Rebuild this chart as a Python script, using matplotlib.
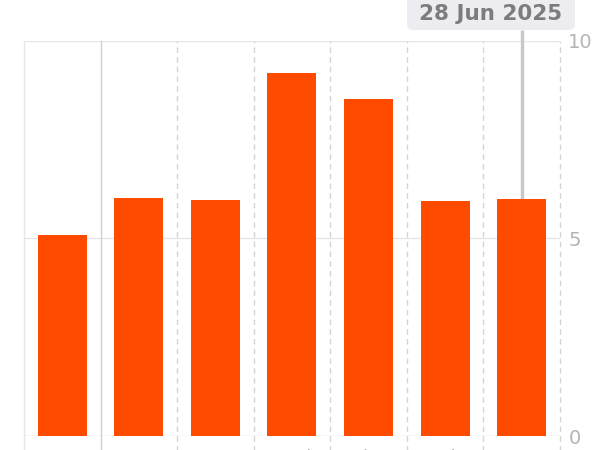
import matplotlib
matplotlib.use("Agg")
import matplotlib.pyplot as plt
from matplotlib.patches import FancyBboxPatch

# daily values for the week ending 28 Jun 2025
days = ["Sun", "Mon", "Tue", "Wed", "Thu", "Fri", "Sat"]
values = [5.1, 6.03, 5.97, 9.19, 8.53, 5.95, 6.0]
yticks = [0, 5, 10]
selected = 6
selected_label = "28 Jun 2025"

bar_color = "#ff4b00"
grid_color = "#e6e6e6"
label_color = "#b4b4b8"

fig = plt.figure(figsize=(6, 4.5), dpi=100)
ax = fig.add_axes([0.04, 0.0311, 0.8933, 0.8778])

x = list(range(len(days)))
ax.bar(x, values, width=0.64, color=bar_color, zorder=3)

ax.set_xlim(-0.5, len(days) - 0.5)
ax.set_ylim(0, 10)

# horizontal grid
for t in yticks:
    ax.axhline(t, color="#d8d8d8" if t == 0 else grid_color, lw=1, zorder=1)

# vertical separators between days
for i in range(len(days) + 1):
    xpos = i - 0.5
    if i == 0:
        ax.axvline(xpos, ymin=-0.05, ymax=1, color=grid_color, lw=1, clip_on=False, zorder=1)
    elif i == 1:
        ax.axvline(xpos, ymin=-0.05, ymax=1, color="#d0d0d0", lw=1, clip_on=False, zorder=1)
    else:
        ax.axvline(xpos, ymin=-0.05, ymax=1, color="#d4d4d4", lw=1,
                   ls=(0, (4, 3)), clip_on=False, zorder=1)

for s in ax.spines.values():
    s.set_visible(False)

ax.yaxis.tick_right()
ax.set_yticks(yticks)
ax.set_yticklabels([str(t) for t in yticks])
ax.tick_params(axis="y", length=0, pad=6, labelsize=14, labelcolor=label_color)

# day labels, mostly cut off by the bottom edge
ax.set_xticks(x)
ax.set_xticklabels(days)
ax.tick_params(axis="x", length=0, pad=9, labelsize=13, labelcolor="#b0b0b0")

# selection line + tooltip
ax.plot([selected, selected], [values[selected], 10.28], color="#c7c7cc", lw=2.4,
        clip_on=False, zorder=2, solid_capstyle="butt")

box = FancyBboxPatch((407 / 600, 1 - 30 / 450), 168 / 600, 40 / 450,
                     boxstyle="round,pad=0,rounding_size=0.012",
                     transform=fig.transFigure, facecolor="#ececf1",
                     edgecolor="none", zorder=5)
fig.patches.append(box)
fig.text(491 / 600, 1 - 14 / 450, selected_label, ha="center", va="center",
         fontsize=15.5, fontweight="bold", color="#7b7b80", zorder=6)

fig.savefig("out.png", dpi=100)
